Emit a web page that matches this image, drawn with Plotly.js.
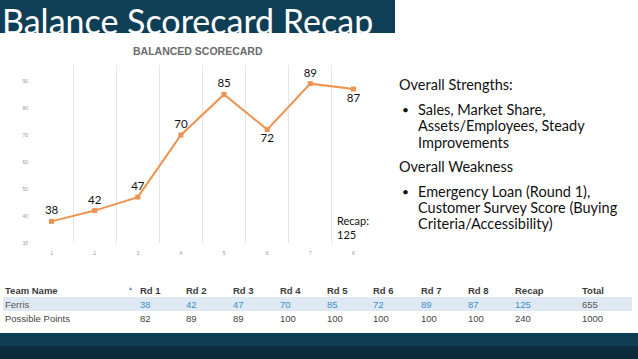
<!DOCTYPE html>
<html><head><meta charset="utf-8">
<script src="https://cdn.plot.ly/plotly-3.0.1.min.js"></script>
<style>html,body{margin:0;padding:0;background:#fff;overflow:hidden}#chart{width:638px;height:359px}</style>
</head><body><div id="chart"></div>
<script>
// ---- data ----
const rounds = [1, 2, 3, 4, 5, 6, 7, 8];
const roundLabels = ['1', '2', '3', '4', '5', '6', '7', '8'];
const scores = [38, 42, 47, 70, 85, 72, 89, 87];
const labelPositions = ['top center', 'top center', 'top center', 'top center', 'top center', 'bottom center', 'top center', 'bottom center'];
const recapScore = 125;
const yTicks = [30, 40, 50, 60, 70, 80, 90];
const tableHeaders = ['Team Name', 'Rd 1', 'Rd 2', 'Rd 3', 'Rd 4', 'Rd 5', 'Rd 6', 'Rd 7', 'Rd 8', 'Recap', 'Total'];
const ferrisRow = ['Ferris', 38, 42, 47, 70, 85, 72, 89, 87, 125, 655];
const possibleRow = ['Possible Points', 82, 89, 89, 100, 100, 100, 100, 100, 240, 1000];
const strengthsTitle = 'Overall Strengths:';
const strengthsLines = ['Sales, Market Share,', 'Assets/Employees, Steady', 'Improvements'];
const weaknessTitle = 'Overall Weakness';
const weaknessLines = ['Emergency Loan (Round 1),', 'Customer Survey Score (Buying', 'Criteria/Accessibility)'];

// ---- layout helpers ----
const W = 638, H = 359;
const px = x => x / W;
const py = y => 1 - y / H;
const tableCols = [3, 138, 184, 231, 278, 325, 371, 419, 466, 513, 580];
const bodyFont = 'Lato, "Open Sans", sans-serif';
const tableFont = '"Liberation Sans", Arial, sans-serif';
const orange = '#ee9250';

const annotations = [];
// title
annotations.push({xref:'paper', yref:'paper', x:px(1), y:py(20.5), xanchor:'left', yanchor:'middle', borderpad:0,
  text:'Balance Scorecard Recap', showarrow:false, font:{family:bodyFont, size:34, color:'#ffffff'}});
// chart title
annotations.push({xref:'paper', yref:'paper', x:px(198), y:py(51), xanchor:'center', yanchor:'middle',
  text:'<b>BALANCED SCORECARD</b>', showarrow:false, font:{family:tableFont, size:10.5, color:'#6b6b6b'}});
// recap note
annotations.push({xref:'paper', yref:'paper', x:px(335), y:py(228), xanchor:'left', yanchor:'middle', align:'left',
  text:'Recap:<br>' + recapScore, showarrow:false, font:{family:bodyFont, size:11, color:'#111'}});
// right text
const addLine = (t, x, y, s) => annotations.push({xref:'paper', yref:'paper', x:px(x), y:py(y), xanchor:'left', yanchor:'middle',
  text:t, showarrow:false, font:{family:bodyFont, size:s || 14.5, color:'#111'}});
addLine(strengthsTitle, 397, 85);
addLine('•', 400, 109, 12);
strengthsLines.forEach((t, i) => addLine(t, 416, 109 + i * 16.7));
addLine(weaknessTitle, 397, 166);
addLine('•', 400, 191, 12);
weaknessLines.forEach((t, i) => addLine(t, 416, 191 + i * 16.3));
// table
tableHeaders.forEach((h, i) => annotations.push({xref:'paper', yref:'paper', x:px(tableCols[i]), y:py(290), xanchor:'left', yanchor:'middle',
  text:'<b>' + h + '</b>', showarrow:false, font:{family:tableFont, size:9.5, color:'#3c3c3c'}}));
annotations.push({xref:'paper', yref:'paper', x:px(130), y:py(288), xanchor:'center', yanchor:'middle',
  text:'▲', showarrow:false, font:{family:tableFont, size:5, color:'#7a7ad0'}});
ferrisRow.forEach((v, i) => annotations.push({xref:'paper', yref:'paper', x:px(tableCols[i]), y:py(304), xanchor:'left', yanchor:'middle',
  text:String(v), showarrow:false, font:{family:tableFont, size:9.5, color:(i === 0 || i === ferrisRow.length - 1) ? '#555' : '#3a92c8'}}));
possibleRow.forEach((v, i) => annotations.push({xref:'paper', yref:'paper', x:px(tableCols[i]), y:py(318), xanchor:'left', yanchor:'middle',
  text:String(v), showarrow:false, font:{family:tableFont, size:9.5, color:'#444'}}));

const shapes = [
  {type:'rect', xref:'paper', yref:'paper', x0:0, x1:px(395), y0:py(33), y1:1, fillcolor:'#0f3e57', line:{width:0}, layer:'below'},
  {type:'rect', xref:'paper', yref:'paper', x0:0, x1:1, y0:py(346), y1:py(333), fillcolor:'#0f3d55', line:{width:0}, layer:'below'},
  {type:'rect', xref:'paper', yref:'paper', x0:0, x1:1, y0:0, y1:py(346), fillcolor:'#0c2c3e', line:{width:0}, layer:'below'},
  {type:'rect', xref:'paper', yref:'paper', x0:px(3), x1:px(632), y0:py(311), y1:py(297), fillcolor:'#dfe9f3', line:{width:0}, layer:'below'}
];

const trace = {
  x: rounds, y: scores, type:'scatter', mode:'lines+markers+text',
  text: scores.map(String), textposition: labelPositions,
  textfont:{family:bodyFont, size:11.5, color:'#111'},
  line:{color:orange, width:2}, marker:{color:orange, size:5, symbol:'square'},
  cliponaxis:false, hoverinfo:'none'
};

const layout = {
  width:W, height:H, margin:{l:0, r:0, t:0, b:0},
  paper_bgcolor:'#ffffff', plot_bgcolor:'rgba(0,0,0,0)', showlegend:false,
  xaxis:{domain:[px(30), px(375)], range:[0.5, 8.5], tickvals:rounds, ticktext:roundLabels,
    showgrid:false, zeroline:false, showline:false, ticks:'', ticklabelstandoff:6,
    tickfont:{family:tableFont, size:5, color:'#999'},
    minor:{tick0:0.5, dtick:1, showgrid:true, gridcolor:'#e6e6e6', gridwidth:1, ticks:''}},
  yaxis:{domain:[py(243), py(65)], range:[30, 95.9], tickvals:yTicks, showgrid:false, zeroline:false,
    showline:false, ticks:'', ticklabelstandoff:1, tickfont:{family:tableFont, size:5, color:'#999'}},
  shapes: shapes, annotations: annotations
};

Plotly.newPlot('chart', [trace], layout, {staticPlot:true, displayModeBar:false});
</script></body></html>
